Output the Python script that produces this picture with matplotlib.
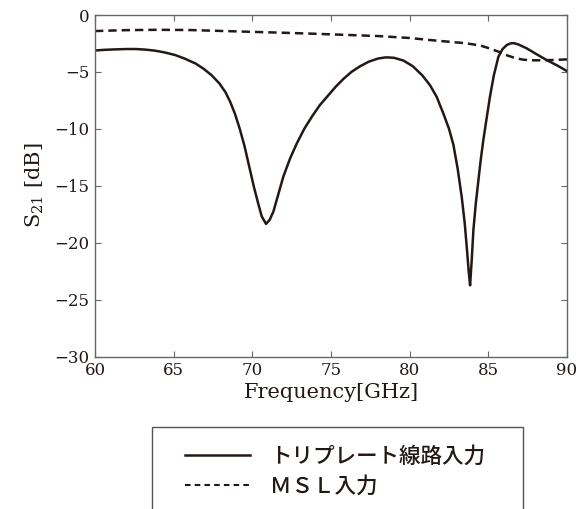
import matplotlib
matplotlib.use("Agg")
import matplotlib.pyplot as plt
from matplotlib.patches import Rectangle
from matplotlib.lines import Line2D

# Data
freq_solid = [60, 60.6, 61.3, 62.0, 62.6, 63.2, 63.8, 64.4, 65.1, 65.7, 66.4, 66.9, 67.4,
              67.9, 68.3, 68.6, 68.9, 69.2, 69.5, 69.85, 70.1, 70.38, 70.6, 70.87, 71.1,
              71.33, 71.6, 71.97, 72.4, 72.82, 73.3, 73.8, 74.3, 74.8, 75.3, 75.8, 76.3,
              76.85, 77.4, 78.0, 78.5, 79.0, 79.6, 80.2, 80.8, 81.29, 81.72, 82.14, 82.5,
              82.78, 83.05, 83.31, 83.5, 83.63, 83.75, 83.84, 83.95, 84.05, 84.2, 84.37,
              84.52, 84.68, 84.9, 85.1, 85.35, 85.64, 85.9, 86.17, 86.4, 86.6, 86.9,
              87.44, 88.07, 88.7, 89.4, 90]
s21_solid = [-3.12, -3.06, -3.02, -2.99, -2.99, -3.04, -3.13, -3.28, -3.52, -3.83, -4.27, -4.72, -5.28,
             -6.0, -6.8, -7.65, -8.7, -10.0, -11.5, -13.6, -15.1, -16.6, -17.7, -18.35, -18.0,
             -17.3, -16.0, -14.2, -12.6, -11.3, -10.0, -8.9, -7.9, -7.1, -6.3, -5.6, -5.0,
             -4.5, -4.1, -3.82, -3.72, -3.76, -4.0, -4.5, -5.3, -6.16, -7.2, -8.65, -10.0,
             -11.4, -13.5, -16.0, -18.3, -20.4, -22.5, -23.75, -21.4, -18.9, -16.6, -14.5,
             -12.7, -11.0, -9.0, -7.2, -5.3, -3.67, -3.0, -2.64, -2.5, -2.47, -2.58,
             -2.93, -3.45, -3.95, -4.45, -4.93]

freq_dash = [60, 62, 64, 66, 68, 70, 72, 74, 76, 78, 80, 81.3, 82.5, 83.5, 84.5, 85.1,
             85.7, 86.2, 86.7, 87.2, 87.7, 88.5, 89.3, 90]
s21_dash = [-1.41, -1.33, -1.30, -1.32, -1.40, -1.48, -1.56, -1.65, -1.75, -1.85, -2.02, -2.2,
            -2.35, -2.47, -2.68, -2.95, -3.25, -3.55, -3.78, -3.92, -3.98, -3.98, -3.94, -3.9]

xticks = [60, 65, 70, 75, 80, 85, 90]
yticks = [0, -5, -10, -15, -20, -25, -30]
legend_labels = ["トリプレート線路入力", "ＭＳＬ入力"]

plt.rcParams['font.family'] = ['DejaVu Serif']
plt.rcParams['mathtext.fontset'] = 'dejavuserif'
plt.rcParams['lines.scale_dashes'] = False

ink = '#231815'
W, H = 586, 509
fig = plt.figure(figsize=(W / 100, H / 100), dpi=100)
ax = fig.add_axes([95 / W, 1 - 356.5 / H, (567 - 95) / W, (356.5 - 15) / H])

ax.plot(freq_solid, s21_solid, color=ink, lw=1.8, solid_joinstyle='round')
ax.plot(freq_dash, s21_dash, color=ink, lw=1.8, dashes=(6.0, 3.6))

ax.set_xlim(60, 90)
ax.set_ylim(-30, 0)
ax.set_xticks(xticks)
ax.set_yticks(yticks)
ax.set_yticklabels(['0', '−5', '−10', '−15', '−20', '−25', '−30'])
ax.tick_params(direction='in', length=4, width=0.8, color='#666666', labelsize=12,
               top=True, right=True, labelcolor=ink, pad=4)
for s in ax.spines.values():
    s.set_color('#666666')
    s.set_linewidth(1.0)

ax.set_xlabel('Frequency[GHz]', fontsize=15, color=ink, labelpad=3)
ax.set_ylabel(r'S$_{21}$ [dB]', fontsize=15, color=ink, labelpad=6)

# Legend (box drawn in figure pixels; it runs off the bottom edge)
rect = Rectangle((152 / W, -0.05), (523 - 152) / W, (1 - 427 / H) + 0.05,
                 transform=fig.transFigure, fill=False, edgecolor='#555555', lw=1.0)
fig.add_artist(rect)
handles = [Line2D([], [], color=ink, lw=1.8),
           Line2D([], [], color=ink, lw=1.5, dashes=(4, 3))]
leg = fig.legend(handles, legend_labels, loc='upper left',
                 bbox_to_anchor=(168 / W, 1 - 428 / H), frameon=False,
                 prop={'family': ['Noto Sans CJK JP', 'DejaVu Sans'], 'size': 15.5,
                       'weight': 'medium'},
                 handlelength=3.0, handletextpad=0.95, labelspacing=0.4,
                 borderpad=0.3, labelcolor=ink)

fig.savefig('out.png', dpi=100)
